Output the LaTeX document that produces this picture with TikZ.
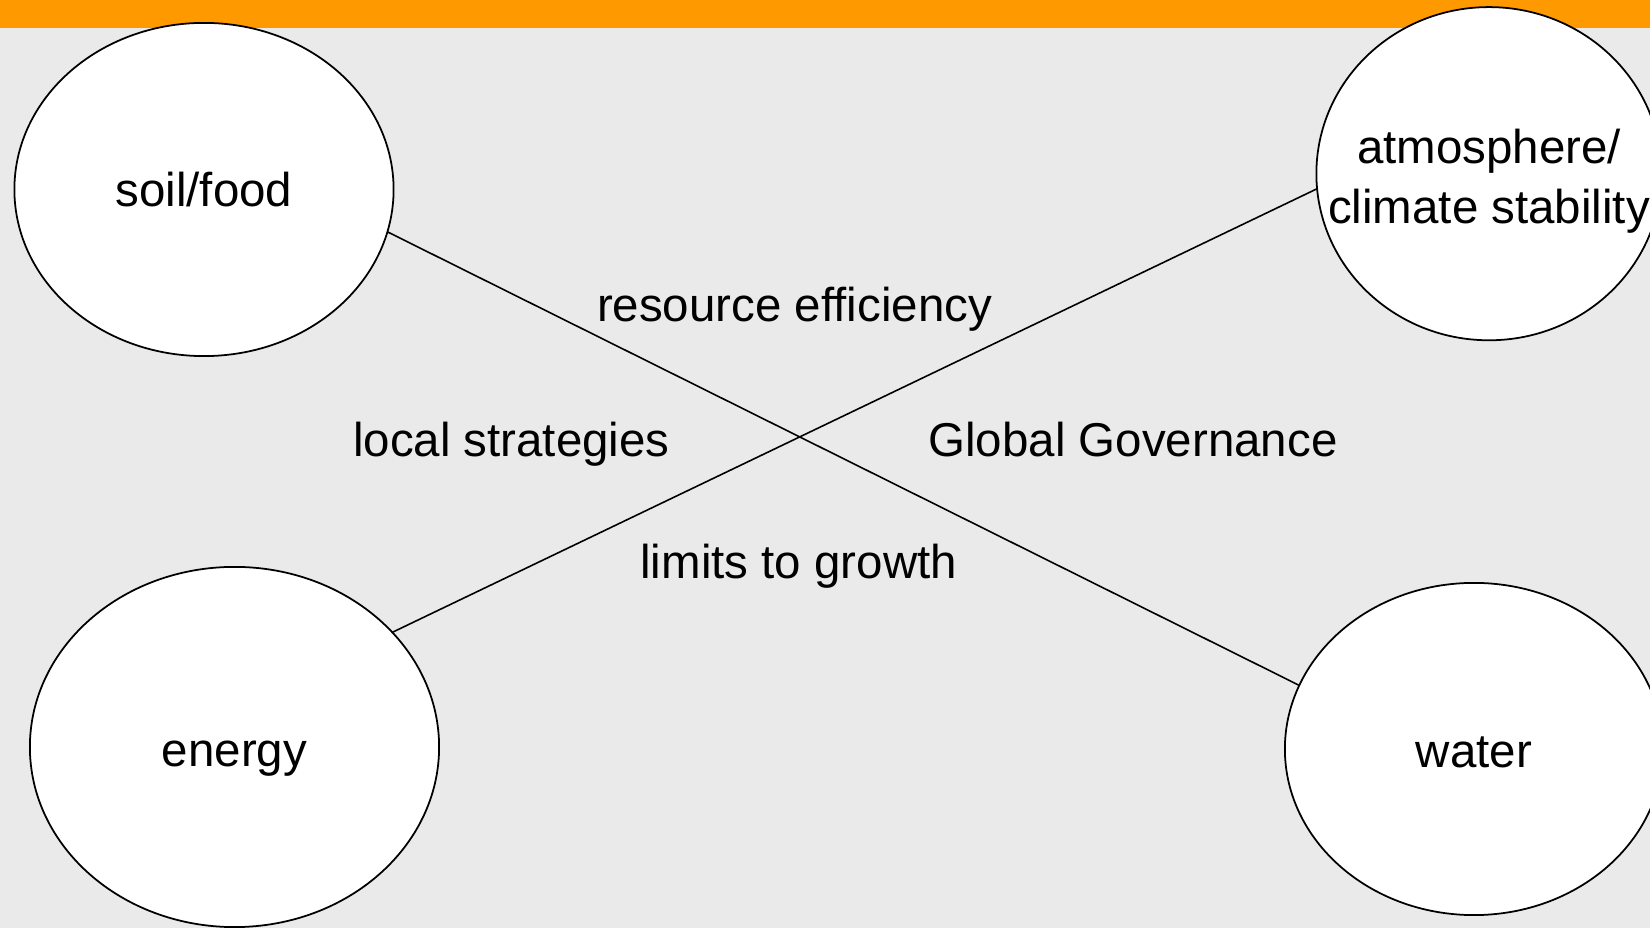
\documentclass[tikz,border=0pt]{standalone}
\usepackage{fontspec}
\setmainfont{Liberation Sans}
\usetikzlibrary{shapes.geometric}
\definecolor{bgGray}{RGB}{234,234,234}
\definecolor{barOrange}{RGB}{255,153,0}
\begin{document}
\begin{tikzpicture}[x=0.01cm,y=-0.01cm,
  bubble/.style={ellipse, draw=black, fill=white, line width=0.5pt,
    inner sep=0pt, outer sep=0pt},
  lbl/.style={inner sep=0pt, align=center,
    font=\fontsize{13.5}{17}\selectfont},
  link/.style={draw=black, line width=0.45pt}]
  \useasboundingbox (0,0) rectangle (1650,928);
  \clip (0,0) rectangle (1650,928);
  % background and header bar
  \fill[bgGray] (0,0) rectangle (1650,928);
  \fill[barOrange] (0,0) rectangle (1650,28.5);
  % resource bubbles
  \node[bubble, minimum width=3.79cm, minimum height=3.33cm] (soil) at (204,189.5) {};
  \node[bubble, minimum width=3.45cm, minimum height=3.33cm] (atmo) at (1489,173.7) {};
  \node[bubble, minimum width=4.09cm, minimum height=3.60cm] (energy) at (234.5,747) {};
  \node[bubble, minimum width=3.78cm, minimum height=3.32cm] (water) at (1474,749) {};
  % bubble captions
  \node[lbl] (soilT) at (204,189.5) {soil/food};
  \node[lbl] (atmoT) at (1489,181) {atmosphere/\\climate stability};
  \node[lbl] (energyT) at (234.5,758.6) {energy};
  \node[lbl] (waterT) at (1474,752.2) {water};
  % crossing links
  \draw[link] (soil.-13) -- (water.160.6);
  \draw[link] (energy.36.9) -- (atmo.185.2);
  % labels around the crossing
  \node[lbl] (eff) at (794.5,309.2) {resource efficiency};
  \node[lbl] (local) at (511.4,444.2) {local strategies};
  \node[lbl] (global) at (1133,440) {Global Governance};
  \node[lbl] (limits) at (798.7,566.2) {limits to growth};
\end{tikzpicture}
\end{document}
